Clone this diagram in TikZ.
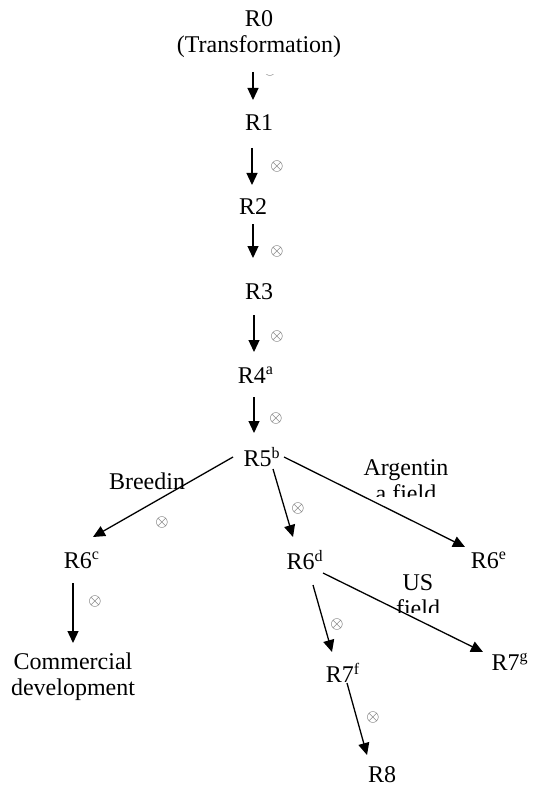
\documentclass[tikz,border=0pt]{standalone}
\usepackage{fontspec}
\setmainfont{Liberation Serif}
\usetikzlibrary{arrows.meta,calc}

\tikzset{
  lbl/.style={inner sep=0pt, font=\fontsize{12}{13}\selectfont, align=center},
  arr/.style={-{Triangle[length=6pt,width=5.5pt]}, line width=0.65pt},
  cross/.style={inner sep=0pt, text=black!62, font=\fontsize{8.5}{8.5}\selectfont},
}

\begin{document}
\begin{tikzpicture}[x=0.5pt, y=-0.5pt]
  \fill[white] (0,0) rectangle (532,791);
  \useasboundingbox (0,0) rectangle (532,791);

  % main chain
  \node[lbl] (R0) at (259,34) {R0\\(Transformation)};
  \node[lbl] (R1) at (259,123) {R1};
  \node[lbl] (R2) at (253,207) {R2};
  \node[lbl] (R3) at (259,292) {R3};
  \node[lbl] (R4) at (256,375) {R4\textsuperscript{a}};
  \node[lbl] (R5) at (262,457) {R5\textsuperscript{b}};

  % branches
  \node[lbl] (R6c) at (82,560) {R6\textsuperscript{c}};
  \node[lbl] (R6d) at (305,560) {R6\textsuperscript{d}};
  \node[lbl] (R6e) at (489,560) {R6\textsuperscript{e}};
  \node[lbl] (Com) at (73,677) {Commercial\\development};
  \node[lbl] (R7f) at (343,673) {R7\textsuperscript{f}};
  \node[lbl] (R7g) at (510,662) {R7\textsuperscript{g}};
  \node[lbl] (R8) at (382,775) {R8};

  % connectors
  \draw[arr] ($(R0)+(-6,38)$) -- ($(R1)+(-6,-23)$);
  \draw[arr] ($(R1)+(-7,25)$) -- ($(R2)+(-1,-22)$);
  \draw[arr] ($(R2)+(0,17)$) -- ($(R3)+(-6,-34)$);
  \draw[arr] ($(R3)+(-5,23)$) -- ($(R4)+(-2,-23)$);
  \draw[arr] ($(R4)+(-2,22)$) -- ($(R5)+(-8,-24)$);
  \draw[arr] ($(R5)+(-29,0)$) -- ($(R6c)+(11,-23)$);
  \draw[arr] ($(R5)+(11,12)$) -- ($(R6d)+(-12,-23)$);
  \draw[arr] ($(R5)+(22,0)$) -- ($(R6e)+(-24,-13)$);
  \draw[arr] ($(R6c)+(-9,23)$) -- ($(Com)+(0,-34)$);
  \draw[arr] ($(R6d)+(18,13)$) -- ($(R7g)+(-27,-10)$);
  \draw[arr] ($(R6d)+(8,25)$) -- ($(R7f)+(-11,-21)$);
  \draw[arr] ($(R7f)+(4,10)$) -- ($(R8)+(-15,-20)$);

  % crossed-circle marks
  \begin{scope}
    \clip (255,75) rectangle (290,90);
    \node[cross] (x0) at (270,71) {$\otimes$};
  \end{scope}
  \node[cross] (x1) at (277,166) {$\otimes$};
  \node[cross] (x2) at (277,252) {$\otimes$};
  \node[cross] (x3) at (277,336) {$\otimes$};
  \node[cross] (x4) at (276,418) {$\otimes$};
  \node[cross] (x5) at (162,522) {$\otimes$};
  \node[cross] (x6) at (298,508) {$\otimes$};
  \node[cross] (x7) at (95,601) {$\otimes$};
  \node[cross] (x8) at (337,624) {$\otimes$};
  \node[cross] (x9) at (373,717) {$\otimes$};

  % route labels
  \node[lbl] (breed) at (147,481) {Breedin};
  \begin{scope}
    \clip (350,450) rectangle (460,496);
    \node[lbl] (arg) at (406,481) {Argentin\\a field};
  \end{scope}
  \begin{scope}
    \clip (390,570) rectangle (450,612);
    \node[lbl] (us) at (418,596) {US\\field};
  \end{scope}
\end{tikzpicture}
\end{document}
